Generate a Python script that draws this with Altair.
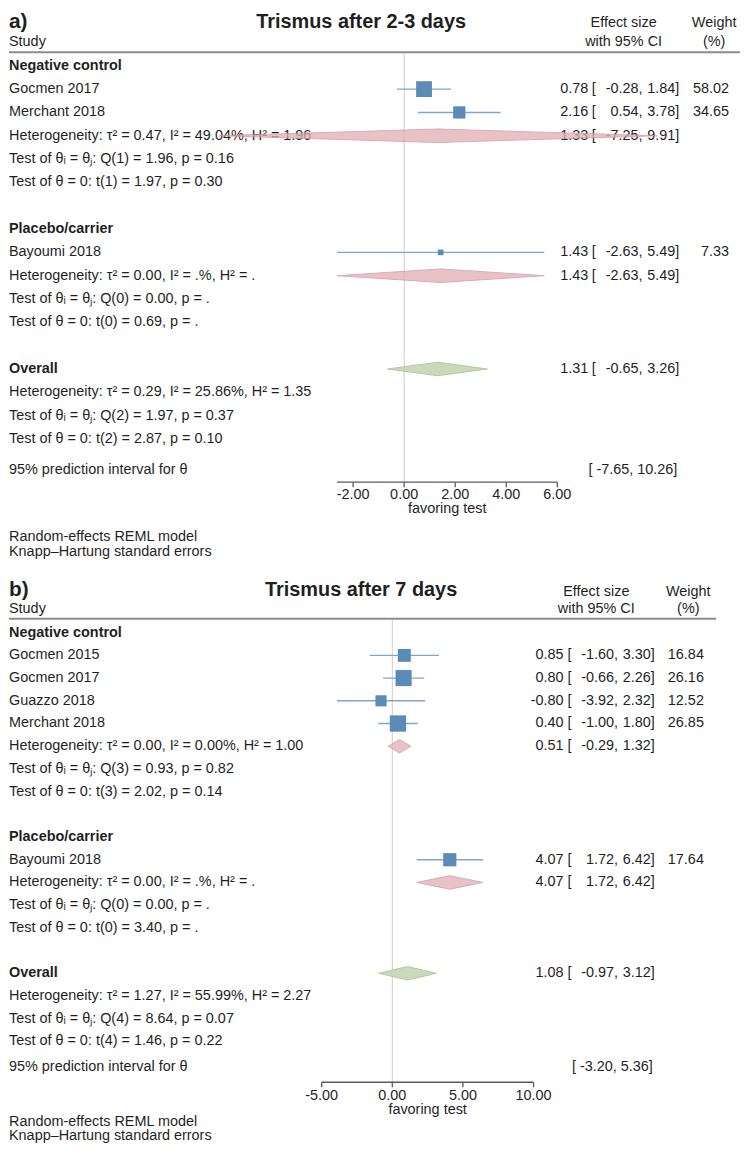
import altair as alt
import pandas as pd

FONT = "Liberation Sans"
TXT = "#1f1f1f"

# ---------------- common labels ----------------
hdr_study = "Study"
hdr_es1, hdr_es2 = "Effect size", "with 95% CI"
hdr_w1, hdr_w2 = "Weight", "(%)"
pred_label = "95% prediction interval for θ"
axis_title = "favoring test"
foot_lines = ["Random-effects REML model", "Knapp–Hartung standard errors"]

# ---------------- panel a values ----------------
a_tag = "a)"
a_title = "Trismus after 2-3 days"
a_study = ["Gocmen 2017", "Merchant 2018", "Bayoumi 2018"]
a_study_row = [1, 2, 8]
a_es = [0.78, 2.16, 1.43]
a_lo = [-0.28, 0.54, -2.63]
a_hi = [1.84, 3.78, 5.49]
a_wt = [58.02, 34.65, 7.33]
a_group = ["Negative control", "Placebo/carrier", "Overall"]
a_group_row = [0, 7, 13]
a_pool_row = [3, 9, 13]
a_pool_kind = ["sub", "sub", "overall"]
a_pool_es = [1.33, 1.43, 1.31]
a_pool_lo = [-7.25, -2.63, -0.65]
a_pool_hi = [9.91, 5.49, 3.26]
a_stat = [
    "Heterogeneity: τ² = 0.47, I² = 49.04%, H² = 1.96",
    "Test of θᵢ = θⱼ: Q(1) = 1.96, p = 0.16",
    "Test of θ = 0: t(1) = 1.97, p = 0.30",
    "Heterogeneity: τ² = 0.00, I² = .%, H² = .",
    "Test of θᵢ = θⱼ: Q(0) = 0.00, p = .",
    "Test of θ = 0: t(0) = 0.69, p = .",
    "Heterogeneity: τ² = 0.29, I² = 25.86%, H² = 1.35",
    "Test of θᵢ = θⱼ: Q(2) = 1.97, p = 0.37",
    "Test of θ = 0: t(2) = 2.87, p = 0.10",
]
a_stat_row = [3, 4, 5, 9, 10, 11, 14, 15, 16]
a_pred = [-7.65, 10.26]
a_ticks = [-2, 0, 2, 4, 6]
a_axis = [-2.63, 6.00]

# ---------------- panel b values ----------------
b_tag = "b)"
b_title = "Trismus after 7 days"
b_study = ["Gocmen 2015", "Gocmen 2017", "Guazzo 2018", "Merchant 2018", "Bayoumi 2018"]
b_study_row = [1, 2, 3, 4, 10]
b_es = [0.85, 0.80, -0.80, 0.40, 4.07]
b_lo = [-1.60, -0.66, -3.92, -1.00, 1.72]
b_hi = [3.30, 2.26, 2.32, 1.80, 6.42]
b_wt = [16.84, 26.16, 12.52, 26.85, 17.64]
b_group = ["Negative control", "Placebo/carrier", "Overall"]
b_group_row = [0, 9, 15]
b_pool_row = [5, 11, 15]
b_pool_kind = ["sub", "sub", "overall"]
b_pool_es = [0.51, 4.07, 1.08]
b_pool_lo = [-0.29, 1.72, -0.97]
b_pool_hi = [1.32, 6.42, 3.12]
b_stat = [
    "Heterogeneity: τ² = 0.00, I² = 0.00%, H² = 1.00",
    "Test of θᵢ = θⱼ: Q(3) = 0.93, p = 0.82",
    "Test of θ = 0: t(3) = 2.02, p = 0.14",
    "Heterogeneity: τ² = 0.00, I² = .%, H² = .",
    "Test of θᵢ = θⱼ: Q(0) = 0.00, p = .",
    "Test of θ = 0: t(0) = 3.40, p = .",
    "Heterogeneity: τ² = 1.27, I² = 55.99%, H² = 2.27",
    "Test of θᵢ = θⱼ: Q(4) = 8.64, p = 0.07",
    "Test of θ = 0: t(4) = 1.46, p = 0.22",
]
b_stat_row = [5, 6, 7, 11, 12, 13, 16, 17, 18]
b_pred = [-3.20, 5.36]
b_ticks = [-5, 0, 5, 10]
b_axis = [-5.00, 10.00]

# ---------------- layout (page pixels) ----------------
geo_a = dict(top=8, height=558, base=63, step=23.45, x0=397.3, ppu=25.67, width=735,
             tag_y=19, title_y=19, title_x=362, hdr1_y=20, hdr2_y=39, line_y=49.5, line_end=735,
             pred_y=469, axis_y=481.7, tick_len=5, ticklab_y=495, fav_y=509,
             foot_y=[537, 552], c_est=590.5, c_br=594, c_lo=645, c_hi=682, c_w=732,
             h_es=626, h_w=717, wmax=60, amax=262, half=6.8)
geo_b = dict(top=566, height=580, base=633, step=22.83, x0=385.4, ppu=14.2, width=735,
             tag_y=590, title_y=590, title_x=362, hdr1_y=592, hdr2_y=609, line_y=619, line_end=711,
             pred_y=1070, axis_y=1085, tick_len=5, ticklab_y=1099, fav_y=1113,
             foot_y=[1125, 1139], c_est=565.6, c_br=569.5, c_lo=620.3, c_hi=657.3, c_w=706.7,
             h_es=598.5, h_w=691, wmax=30, amax=300, half=6.8)


def build_panel(tag, title, study, study_row, es, lo, hi, wt, group, group_row,
                pool_row, pool_kind, pool_es, pool_lo, pool_hi, stat, stat_row,
                pred, ticks, axis_rng, g):
    base, step = g["base"], g["step"]

    def R(page):
        return (page - base) / step

    ys = alt.Scale(domain=[R(g["top"]), R(g["top"] + g["height"])], reverse=True, nice=False, zero=False)
    xs = alt.Scale(domain=[-g["x0"] / g["ppu"], (g["width"] - g["x0"]) / g["ppu"]], nice=False, zero=False)

    def Y(f):
        return alt.Y(f"{f}:Q", scale=ys, axis=None)

    def X(f):
        return alt.X(f"{f}:Q", scale=xs, axis=None)

    def T(df, **kw):
        k = dict(font=FONT, fontSize=14.5, color=TXT, baseline="middle")
        k.update(kw)
        return alt.Chart(df).mark_text(**k)

    px = lambda page_x: page_x - 8
    L = []

    # header rule
    L.append(alt.Chart(pd.DataFrame({"r": [R(g["line_y"])]})).mark_rule(color="#8c8c8c", strokeWidth=2)
             .encode(x=alt.value(0), x2=alt.value(g["line_end"]), y=Y("r")))
    # zero reference line
    L.append(alt.Chart(pd.DataFrame({"x": [0], "r1": [R(g["line_y"]) + 0.05], "r2": [R(g["axis_y"])]}))
             .mark_rule(color="#cdcdcd", strokeWidth=1)
             .encode(x=X("x"), y=Y("r1"), y2=alt.Y2("r2")))
    # axis line
    L.append(alt.Chart(pd.DataFrame({"x1": [axis_rng[0]], "x2": [axis_rng[1]], "r": [R(g["axis_y"])]}))
             .mark_rule(color="#5a5a5a", strokeWidth=1.3)
             .encode(x=X("x1"), x2=alt.X2("x2"), y=Y("r")))
    tdf = pd.DataFrame({"t": ticks, "r1": R(g["axis_y"]), "r2": R(g["axis_y"] + g["tick_len"]),
                        "lab": [f"{t:.2f}" for t in ticks], "rl": R(g["ticklab_y"])})
    L.append(alt.Chart(tdf).mark_rule(color="#5a5a5a", strokeWidth=1.3)
             .encode(x=X("t"), y=Y("r1"), y2=alt.Y2("r2")))
    L.append(T(tdf, align="center").encode(x=X("t"), y=Y("rl"), text="lab:N"))
    L.append(T(pd.DataFrame({"x": [sum(axis_rng) / 2], "r": [R(g["fav_y"])], "s": [axis_title]}), align="center")
             .encode(x=X("x"), y=Y("r"), text="s:N"))

    # study CIs and squares
    sdf = pd.DataFrame({"row": study_row, "es": es, "lo": lo, "hi": hi, "w": wt, "name": study,
                        "e_txt": [f"{v:.2f}" for v in es],
                        "l_txt": [f"{v:.2f}," for v in lo],
                        "h_txt": [f"{v:.2f}]" for v in hi],
                        "w_txt": [f"{v:.2f}" for v in wt],
                        "br": "["})
    L.append(alt.Chart(sdf).mark_rule(color="#7fa6cb", strokeWidth=1.4)
             .encode(x=X("lo"), x2=alt.X2("hi"), y=Y("row")))
    L.append(alt.Chart(sdf).mark_square(color="#5b8bb6", opacity=1, filled=True)
             .encode(x=X("es"), y=Y("row"),
                     size=alt.Size("w:Q", scale=alt.Scale(domain=[0, g["wmax"]], range=[0, g["amax"]]), legend=None)))

    # left column texts
    L.append(T(sdf, align="left").encode(x=alt.value(0), y=Y("row"), text="name:N"))
    L.append(T(pd.DataFrame({"row": stat_row, "s": stat}), align="left").encode(x=alt.value(0), y=Y("row"), text="s:N"))
    L.append(T(pd.DataFrame({"row": group_row, "s": group}), align="left", fontWeight="bold")
             .encode(x=alt.value(0), y=Y("row"), text="s:N"))
    L.append(T(pd.DataFrame({"r": [R(g["pred_y"])], "s": [pred_label]}), align="left")
             .encode(x=alt.value(0), y=Y("r"), text="s:N"))
    L.append(T(pd.DataFrame({"r": [R(y) for y in g["foot_y"]], "s": foot_lines}), align="left")
             .encode(x=alt.value(0), y=Y("r"), text="s:N"))

    # effect size columns
    pdf = pd.DataFrame({"row": pool_row, "es": pool_es, "lo": pool_lo, "hi": pool_hi, "kind": pool_kind,
                        "e_txt": [f"{v:.2f}" for v in pool_es],
                        "l_txt": [f"{v:.2f}," for v in pool_lo],
                        "h_txt": [f"{v:.2f}]" for v in pool_hi],
                        "br": "["})
    cols = pd.concat([sdf[["row", "e_txt", "l_txt", "h_txt", "br"]], pdf[["row", "e_txt", "l_txt", "h_txt", "br"]]],
                     ignore_index=True)
    L.append(T(cols, align="right").encode(x=alt.value(px(g["c_est"])), y=Y("row"), text="e_txt:N"))
    L.append(T(cols, align="left").encode(x=alt.value(px(g["c_br"])), y=Y("row"), text="br:N"))
    L.append(T(cols, align="right").encode(x=alt.value(px(g["c_lo"])), y=Y("row"), text="l_txt:N"))
    L.append(T(cols, align="right").encode(x=alt.value(px(g["c_hi"])), y=Y("row"), text="h_txt:N"))
    L.append(T(sdf, align="right").encode(x=alt.value(px(g["c_w"])), y=Y("row"), text="w_txt:N"))
    prd = pd.DataFrame({"row": [R(g["pred_y"])], "s": [f"[ {pred[0]:.2f}, {pred[1]:.2f}]"]})
    L.append(T(prd, align="right").encode(x=alt.value(px(g["c_hi"] - 2)), y=Y("row"), text="s:N"))

    # headers and titles
    L.append(T(pd.DataFrame({"r": [R(g["hdr1_y"]), R(g["hdr2_y"])], "s": [hdr_es1, hdr_es2]}), align="center")
             .encode(x=alt.value(px(g["h_es"])), y=Y("r"), text="s:N"))
    L.append(T(pd.DataFrame({"r": [R(g["hdr1_y"]), R(g["hdr2_y"])], "s": [hdr_w1, hdr_w2]}), align="center")
             .encode(x=alt.value(px(g["h_w"])), y=Y("r"), text="s:N"))
    L.append(T(pd.DataFrame({"r": [R(g["hdr2_y"])], "s": [hdr_study]}), align="left")
             .encode(x=alt.value(0), y=Y("r"), text="s:N"))
    L.append(T(pd.DataFrame({"r": [R(g["tag_y"])], "s": [tag]}), align="left", fontSize=21, fontWeight="bold")
             .encode(x=alt.value(0), y=Y("r"), text="s:N"))
    L.append(T(pd.DataFrame({"r": [R(g["title_y"])], "s": [title]}), align="center", fontSize=20, fontWeight="bold")
             .encode(x=alt.value(px(g["title_x"])), y=Y("r"), text="s:N"))

    # diamonds (pooled estimates)
    h = g["half"] / step
    drows = []
    for i, (r, e, l, u, k) in enumerate(zip(pool_row, pool_es, pool_lo, pool_hi, pool_kind)):
        drows += [dict(id=i, kind=k, x=l, y1=r, y2=r),
                  dict(id=i, kind=k, x=e, y1=r - h, y2=r + h),
                  dict(id=i, kind=k, x=u, y1=r, y2=r)]
    ddf = pd.DataFrame(drows)
    L.append(alt.Chart(ddf[ddf.kind == "sub"]).mark_area(orient="vertical", color="#e2b1b7", stroke="#cf959d",
                                                          strokeWidth=1, opacity=0.78)
             .encode(x=X("x"), y=Y("y1"), y2=alt.Y2("y2"), detail="id:N"))
    L.append(alt.Chart(ddf[ddf.kind == "overall"]).mark_area(orient="vertical", color="#c9d7b8", stroke="#b3c6a0",
                                                              strokeWidth=1, opacity=0.95)
             .encode(x=X("x"), y=Y("y1"), y2=alt.Y2("y2"), detail="id:N"))

    return alt.layer(*L).properties(width=g["width"], height=g["height"])


pa = build_panel(a_tag, a_title, a_study, a_study_row, a_es, a_lo, a_hi, a_wt, a_group, a_group_row,
                 a_pool_row, a_pool_kind, a_pool_es, a_pool_lo, a_pool_hi, a_stat, a_stat_row,
                 a_pred, a_ticks, a_axis, geo_a)
pb = build_panel(b_tag, b_title, b_study, b_study_row, b_es, b_lo, b_hi, b_wt, b_group, b_group_row,
                 b_pool_row, b_pool_kind, b_pool_es, b_pool_lo, b_pool_hi, b_stat, b_stat_row,
                 b_pred, b_ticks, b_axis, geo_b)

chart = (alt.vconcat(pa, pb, spacing=0, bounds="flush")
         .resolve_scale(size="independent", x="independent", y="independent")
         .properties(padding=0)
         .configure_view(stroke=None))

chart.save("out.html", embed_options={"renderer": "svg", "actions": False})
